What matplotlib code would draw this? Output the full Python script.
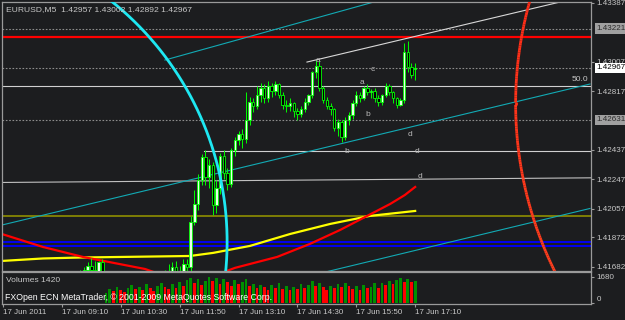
import numpy as np
import matplotlib.pyplot as plt
import matplotlib.transforms as mtransforms
from matplotlib.collections import LineCollection

plt.rcParams['font.family'] = ['Liberation Sans', 'DejaVu Sans']

BG = '#1c1d1f'
FG = '#c8c8c8'
FRAME = '#9a9a9a'
W, H = 625, 320

# ---- EURUSD M5 candles, bar index 0 = 17 Jun 07:50 ----
first_bar = 20
opens = [
    1.4162, 1.4160, 1.4164, 1.4166, 1.4169, 1.4166, 1.4164, 1.4171, 1.4162, 1.4156,
    1.4153, 1.4155, 1.4151, 1.4154, 1.4158, 1.4155, 1.4150, 1.4153, 1.4157, 1.4154,
    1.4150, 1.4155, 1.4158, 1.4161, 1.4159, 1.4164, 1.4162, 1.4168, 1.4165, 1.4163,
    1.4170, 1.4168, 1.4197, 1.4209, 1.4224, 1.4239, 1.4226, 1.4234, 1.4208, 1.4219,
    1.4240, 1.4229, 1.4222, 1.4244, 1.4250, 1.4254, 1.4251, 1.4263, 1.4275, 1.4272,
    1.4279, 1.4284, 1.4277, 1.4285, 1.4282, 1.4286, 1.4279, 1.4273, 1.4272, 1.4274,
    1.4269, 1.4267, 1.4270, 1.4275, 1.4279, 1.4294, 1.4298, 1.4284, 1.4276, 1.4272,
    1.4270, 1.4258, 1.4262, 1.4252, 1.4263, 1.4266, 1.4274, 1.4279, 1.4277, 1.4284,
    1.4281, 1.4282, 1.4277, 1.4275, 1.4279, 1.4285, 1.4281, 1.4277, 1.4273, 1.4276,
    1.4307, 1.4297, 1.42957]
highs = [
    1.4165, 1.4166, 1.4168, 1.4171, 1.4174, 1.4172, 1.4172, 1.4173, 1.4164, 1.4160,
    1.4158, 1.4159, 1.4156, 1.4160, 1.4162, 1.4158, 1.4155, 1.4159, 1.4161, 1.4157,
    1.4156, 1.4160, 1.4163, 1.4165, 1.4166, 1.4170, 1.4171, 1.4172, 1.4169, 1.4173,
    1.4173, 1.4201, 1.4218, 1.4228, 1.4241, 1.4244, 1.4238, 1.4236, 1.4224, 1.4242,
    1.4244, 1.4232, 1.4245, 1.4252, 1.4256, 1.4257, 1.4281, 1.4278, 1.4277, 1.4285,
    1.4287, 1.4286, 1.4288, 1.4287, 1.4288, 1.4287, 1.4281, 1.4276, 1.4277, 1.4275,
    1.4271, 1.4272, 1.4277, 1.4280, 1.4295, 1.4302, 1.4301, 1.4285, 1.4278, 1.4274,
    1.4271, 1.4264, 1.4263, 1.4265, 1.4268, 1.4276, 1.4282, 1.4281, 1.4285, 1.4286,
    1.4283, 1.4284, 1.4279, 1.4280, 1.4287, 1.4286, 1.4282, 1.4278, 1.4277, 1.4313,
    1.4314, 1.4300, 1.43002]
lows = [
    1.4158, 1.4157, 1.4161, 1.4163, 1.4164, 1.4162, 1.4161, 1.4160, 1.4153, 1.4150,
    1.4148, 1.4149, 1.4146, 1.4151, 1.4152, 1.4148, 1.4145, 1.4150, 1.4152, 1.4147,
    1.4146, 1.4152, 1.4154, 1.4156, 1.4157, 1.4160, 1.4159, 1.4163, 1.4161, 1.4160,
    1.4164, 1.4165, 1.4195, 1.4205, 1.4221, 1.4221, 1.4219, 1.4202, 1.4203, 1.4215,
    1.4225, 1.4218, 1.4220, 1.4240, 1.4247, 1.4245, 1.4248, 1.4260, 1.4268, 1.4270,
    1.4275, 1.4274, 1.4275, 1.4278, 1.4279, 1.4277, 1.4270, 1.4268, 1.4269, 1.4265,
    1.4263, 1.4265, 1.4268, 1.4273, 1.4277, 1.4290, 1.4282, 1.4274, 1.4270, 1.4266,
    1.4256, 1.4253, 1.4249, 1.4250, 1.4260, 1.4264, 1.4272, 1.4275, 1.4276, 1.4279,
    1.4277, 1.4275, 1.4272, 1.4273, 1.4278, 1.4279, 1.4274, 1.4271, 1.4272, 1.4274,
    1.4294, 1.4290, 1.42892]
closes = [
    1.4160, 1.4164, 1.4166, 1.4169, 1.4166, 1.4164, 1.4171, 1.4162, 1.4156, 1.4153,
    1.4155, 1.4151, 1.4154, 1.4158, 1.4155, 1.4150, 1.4153, 1.4157, 1.4154, 1.4150,
    1.4155, 1.4158, 1.4161, 1.4159, 1.4164, 1.4162, 1.4168, 1.4165, 1.4163, 1.4170,
    1.4168, 1.4197, 1.4209, 1.4224, 1.4239, 1.4226, 1.4234, 1.4208, 1.4219, 1.4240,
    1.4229, 1.4222, 1.4244, 1.4250, 1.4254, 1.4251, 1.4263, 1.4275, 1.4272, 1.4279,
    1.4284, 1.4277, 1.4285, 1.4282, 1.4286, 1.4279, 1.4273, 1.4272, 1.4274, 1.4269,
    1.4267, 1.4270, 1.4275, 1.4279, 1.4294, 1.4298, 1.4284, 1.4276, 1.4272, 1.4270,
    1.4258, 1.4262, 1.4252, 1.4263, 1.4266, 1.4274, 1.4279, 1.4277, 1.4284, 1.4281,
    1.4282, 1.4277, 1.4275, 1.4279, 1.4285, 1.4281, 1.4277, 1.4273, 1.4276, 1.4307,
    1.4297, 1.4292, 1.42967]

vol_first_bar = 28
volumes = [
    620, 880, 760, 1020, 840, 700, 980, 1180, 900, 1060,
    820, 1250, 980, 760, 1100, 1320, 1050, 880, 1200, 960,
    1380, 1120, 1500, 1640, 1300, 1560, 1180, 1450, 1680, 1420,
    1600, 1250, 1520, 1380, 1100, 1460, 1200, 1340, 1560, 1080,
    1250, 940, 1180, 1020, 860, 1140, 980, 1260, 920, 1100,
    840, 1050, 900, 1240, 980, 1160, 1420, 1080, 1300, 1020,
    860, 1120, 980, 1240, 1060, 1300, 1100, 900, 1080, 860,
    1180, 940, 1040, 1260, 1000, 1320, 1160, 1400, 1240, 1500,
    1620, 1380, 1560, 1340, 1420]

time_ticks = [0, 16, 32, 48, 64, 80, 96, 112]
time_labels = ['17 Jun 2011', '17 Jun 09:10', '17 Jun 10:30', '17 Jun 11:50',
               '17 Jun 13:10', '17 Jun 14:30', '17 Jun 15:50', '17 Jun 17:10']
price_ticks = [1.43387, 1.43007, 1.42817, 1.42437,
               1.42247, 1.42057, 1.41872, 1.41682]

# moving averages
ma_red_bars = [-0.3, 6.5, 10.9, 21.7, 38.6, 50.8, 63.0, 74.5, 83.4, 91.6, 98.4, 105.2, 109.2, 112]
ma_red_vals = [1.41894, 1.41843, 1.41810, 1.41746, 1.41668, 1.41565, 1.41675, 1.41746,
               1.41830, 1.41920, 1.42004, 1.42088, 1.42146, 1.42198]
ma_yellow_bars = [-0.3, 10.9, 20.9, 50.8, 57.1, 67.1, 78.0, 88.9, 99.7, 112]
ma_yellow_vals = [1.41720, 1.41736, 1.41742, 1.41752, 1.41772, 1.41817, 1.41894,
                  1.41959, 1.42011, 1.42043]

# chart objects
dotted_levels = [1.43221, 1.42967, 1.42631]
red_level = 1.43169
white_level = 1.42853
white_short_level = 1.42431
olive_level = 1.42011
blue_levels = [1.41843, 1.41819]
teal_lines = [(44.0, 1.43018, 110.0, 1.43454),
              (-0.3, 1.41952, 159.5, 1.42863),
              (80.0, 1.41605, 159.5, 1.42059)]
white_trend = (82.6, 1.43005, 151.4, 1.43393)
gray_trend = (-0.3, 1.42227, 159.8, 1.42257)
cyan_arc = (-22.9, 1.41843, 83.8, 0.01992)
red_arc = (242.3, 1.42736, 103.0, 0.02448)
wave_labels = [('a', 85.6, 1.43012), ('c', 100.5, 1.42954), ('a', 97.6, 1.42876),
               ('b', 99.2, 1.42663), ('d', 110.6, 1.42540), ('b', 93.5, 1.42424),
               ('d', 112.5, 1.42424), ('d', 113.3, 1.42263)]


def px_box(left, top, right, bottom):
    return [left / W, 1 - bottom / H, (right - left) / W, (bottom - top) / H]


fig = plt.figure(figsize=(6.25, 3.2), dpi=100, facecolor=BG)
ax = fig.add_axes(px_box(2, 2, 591, 271), facecolor=BG)
vax = fig.add_axes(px_box(2, 272, 591, 304), facecolor=BG)

xlim = (-0.27, 159.78)
ax.set_xlim(xlim)
ax.set_ylim(1.41655, 1.43393)
vax.set_xlim(xlim)
vax.set_ylim(-65, 2003)

for a in (ax, vax):
    for s in a.spines.values():
        s.set_color(FRAME)
        s.set_linewidth(0.9)

# horizontal levels
for lv in dotted_levels:
    ax.axhline(lv, color='#8c8c8c', lw=0.8, ls=(0, (1.5, 1.5)), zorder=1)
ax.axhline(red_level, color='#ff0000', lw=1.6, zorder=1)
ax.axhline(white_level, color='#d0d0d0', lw=0.8, zorder=1)
ax.plot([54.6, xlim[1]], [white_short_level] * 2, color='#d0d0d0', lw=0.8, zorder=1)
ax.axhline(olive_level, color='#8f8f00', lw=1.2, zorder=1)
for lv in blue_levels:
    ax.axhline(lv, color='#0000ff', lw=1.3, zorder=1)
ax.plot(gray_trend[::2], gray_trend[1::2], color='#c0c0c0', lw=0.8, zorder=1)

for b0, p0, b1, p1 in teal_lines:
    ax.plot([b0, b1], [p0, p1], color='#12aab4', lw=0.8, zorder=2)
ax.plot(white_trend[::2], white_trend[1::2], color='#d8d8d8', lw=0.8, zorder=2)
ax.text(159.0, 1.42870, '50.0', color=FG, fontsize=6, ha='right', va='bottom')

# moving averages
ax.plot(ma_yellow_bars, ma_yellow_vals, color='#ffff00', lw=1.6, zorder=2)
ax.plot(ma_red_bars, ma_red_vals, color='#ff0000', lw=1.6, zorder=2)

# candles
bars = np.arange(first_bar, first_bar + len(opens))
o, h, l, c = map(np.array, (opens, highs, lows, closes))
up = c >= o
ax.vlines(bars, l, h, color='#00ff00', lw=0.7, zorder=3)
ax.bar(bars, np.maximum(np.abs(c - o), 0.00002), bottom=np.minimum(o, c), width=0.65,
       color=np.where(up, '#e8ffe8', '#000000'), edgecolor='#00ff00',
       linewidth=0.6, zorder=4)

# arcs
cb, cp, rb, rp = cyan_arc
t = np.linspace(-np.pi / 2, np.pi / 2, 500)
ax.plot(cb + rb * np.cos(t), cp + rp * np.sin(t), color='#1ee8f2', lw=2.0, zorder=5)

cb, cp, rb, rp = red_arc
t = np.linspace(np.pi / 2, 3 * np.pi / 2, 500)
xs, ys = cb + rb * np.cos(t), cp + rp * np.sin(t)
pts = np.column_stack([xs, ys]).reshape(-1, 1, 2)
segs = np.concatenate([pts[:-1], pts[1:]], axis=1)
k = np.linspace(0, 1, len(segs))
cols = np.column_stack([np.ones_like(k), 0.05 + 0.30 * k, 0.05 + 0.1 * k])
ax.add_collection(LineCollection(segs, colors=cols, linewidths=2.0, zorder=5))

for txt, b, p in wave_labels:
    ax.text(b, p, txt, color='#b8b8b8', fontsize=6, ha='center', va='center', zorder=6)

# price scale
ax.set_xticks([])
ax.yaxis.tick_right()
ax.set_yticks(price_ticks)
ax.set_yticklabels(['%.5f' % p for p in price_ticks])
ax.tick_params(axis='y', colors=FRAME, labelcolor=FG, labelsize=5.8,
               length=2.2, width=0.8, pad=1.8)

tr = mtransforms.blended_transform_factory(ax.transAxes, ax.transData)
boxes = [(1.43221, '#a0a0a0', '#2a2a2a'), (1.42967, '#ffffff', '#000000'),
         (1.42631, '#a0a0a0', '#2a2a2a')]
for lv, fc, tc in boxes:
    ax.text(1.0095, lv, '%.5f' % lv, transform=tr, fontsize=5.8, color=tc,
            ha='left', va='center', clip_on=False, zorder=10,
            bbox=dict(boxstyle='square,pad=0.22', fc=fc, ec='none'))

# volumes
vbars = np.arange(vol_first_bar, vol_first_bar + len(volumes))
v = np.array(volumes)
rising = np.concatenate([[True], v[1:] > v[:-1]])
vax.bar(vbars, v, width=0.75, color=np.where(rising, '#009000', '#ff0000'), zorder=2)
vax.yaxis.tick_right()
vax.set_yticks([0, 1680])
vax.set_yticklabels(['0', '1680'])
vax.tick_params(axis='y', colors=FRAME, labelcolor=FG, labelsize=5.8,
                length=2.2, width=0.8, pad=1.8)
vax.get_yticklabels()[0].set_va('bottom')
vax.set_xticks(time_ticks)
vax.set_xticklabels(time_labels)
vax.tick_params(axis='x', colors=FRAME, labelcolor=FG, labelsize=5.8,
                length=2.2, width=0.8, pad=1.5)
for lab in vax.get_xticklabels():
    lab.set_ha('left')

# header texts
fig.text(6 / W, 1 - 10 / H, 'EURUSD,M5  %.5f %.5f %.5f %.5f' % (opens[-1], highs[-1], lows[-1], closes[-1]),
         color=FG, fontsize=6.1, va='center')
fig.text(6 / W, 1 - 281 / H, 'Volumes %d' % volumes[-1], color=FG, fontsize=6.1, va='center')
fig.text(5 / W, 1 - 297 / H, 'FXOpen ECN MetaTrader, \u00a9 2001-2009 MetaQuotes Software Corp.',
         color='#ffffff', fontsize=6.3, va='center')

fig.savefig('out.png', dpi=100, facecolor=BG)
